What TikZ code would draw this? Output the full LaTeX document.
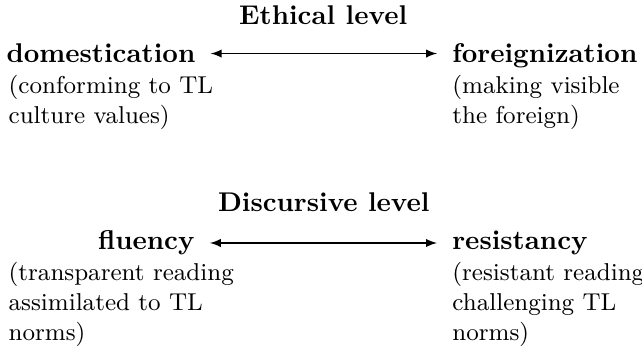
\documentclass[tikz,border=0pt]{standalone}
\usepackage{tikz}
\tikzset{
  level/.style={font=\bfseries, inner sep=0pt, anchor=base},
  pole/.style={font=\bfseries, inner sep=0pt},
  gloss/.style={font=\small, align=left, inner sep=0pt, anchor=north west},
  link/.style={latex-latex, shorten >=5.5pt, shorten <=5.5pt},
}
\begin{document}
\begin{tikzpicture}[x=1pt,y=1pt]
  \useasboundingbox (0,0) rectangle (237,-128.4);

  % ethical level
  \node[level] (ethical) at (119.3,-9.2) {Ethical level};
  \node[pole, anchor=base east] (domest) at (72.3,-23.2) {domestication};
  \node[pole, anchor=base west] (foreign) at (166.8,-23.2) {foreignization};
  \node[gloss] (domestgl) at (3,-27.6) {(conforming to TL\\culture values)};
  \node[gloss] (foreigngl) at (166.8,-27.6) {(making visible\\the foreign)};
  \draw[link] (domest.east) -- (domest.east -| foreign.west);

  % discursive level
  \node[level] (discursive) at (119.5,-78.2) {Discursive level};
  \node[pole, anchor=base east] (fluency) at (72,-92.2) {fluency};
  \node[pole, anchor=base west] (resist) at (166.8,-92.2) {resistancy};
  \node[gloss] (fluencygl) at (3,-96.6) {(transparent reading\\assimilated to TL\\norms)};
  \node[gloss] (resistgl) at (166.8,-96.6) {(resistant reading\\challenging TL\\norms)};
  \draw[link] (fluency.east) -- (fluency.east -| resist.west);
\end{tikzpicture}
\end{document}
